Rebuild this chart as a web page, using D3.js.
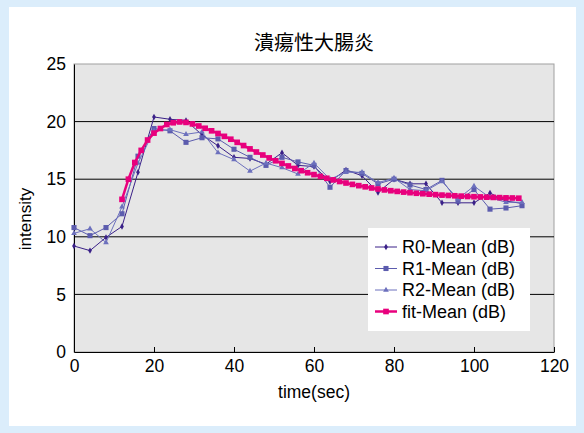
<!doctype html>
<html>
<head>
<meta charset="utf-8">
<script src="https://d3js.org/d3.v7.min.js"></script>
<style>
  body { margin: 0; background: #dbedfb; }
  svg text { font-family: "Liberation Sans", Arial, sans-serif; fill: #000; }
</style>
</head>
<body>
<div id="chart"></div>
<script>
// sample times for the measured series (sec)
var times = [0, 4, 8, 12, 16, 20, 24, 28, 32, 36, 40, 44, 48, 52, 56, 60, 64, 68, 72, 76, 80, 84, 88, 92, 96, 100, 104, 108, 112];
var r0 = [9.2, 8.8, 9.95, 10.9, 15.6, 20.4, 20.2, 20.1, 18.85, 17.9, 16.9, 16.8, 16.3, 17.3, 16.2, 16.1, 14.8, 15.8, 15.3, 13.85, 15.0, 14.6, 14.6, 12.95, 12.95, 12.95, 13.8, 13.1, 12.9];
var r1 = [10.8, 10.1, 10.8, 12.0, 17.0, 19.4, 19.2, 18.2, 18.6, 18.5, 17.6, 16.9, 16.2, 16.9, 16.5, 16.2, 14.3, 15.75, 15.5, 14.6, 15.0, 14.5, 14.1, 14.9, 13.1, 14.1, 12.4, 12.5, 12.7];
var r2 = [10.3, 10.7, 9.5, 12.6, 16.4, 19.2, 19.3, 18.9, 19.1, 17.3, 16.7, 15.7, 16.4, 16.0, 15.45, 16.4, 15.0, 15.6, 15.6, 14.7, 15.1, 14.1, 14.0, 14.8, 13.3, 14.4, 13.4, 13.0, 13.0];

// fitted curve
var fitTimes = [12, 13.6, 15.2, 16.8, 18.4, 20, 21.6, 23.2, 24.8, 26.4, 28, 29.6, 31.2, 32.8, 34.4, 36, 37.6, 39.2, 40.8, 42.4,
  44, 45.6, 47.2, 48.8, 50.4, 52, 53.6, 55.2, 56.8, 58.4, 60, 61.6, 63.2, 64.8, 66.4, 68, 69.6, 71.2, 72.8, 74.4,
  76, 77.6, 79.2, 80.8, 82.4, 84, 85.6, 87.2, 88.8, 90.4, 92, 93.6, 95.2, 96.8, 98.4, 100, 101.6, 103.2, 104.8, 106.4,
  108, 109.6, 111.2];
var fit = [13.25, 15.0, 16.45, 17.5, 18.4, 19.0, 19.4, 19.75, 19.9, 19.97, 19.93, 19.8, 19.62, 19.42, 19.2, 18.97, 18.72, 18.47, 18.2, 17.92,
  17.63, 17.36, 17.1, 16.85, 16.6, 16.37, 16.15, 15.93, 15.74, 15.56, 15.4, 15.24, 15.08, 14.94, 14.8, 14.67, 14.55, 14.44, 14.34, 14.24,
  14.15, 14.07, 14.0, 13.94, 13.88, 13.83, 13.78, 13.74, 13.7, 13.66, 13.62, 13.59, 13.56, 13.53, 13.5, 13.48, 13.46, 13.44, 13.42, 13.4,
  13.38, 13.37, 13.35];

var xTicks = [0, 20, 40, 60, 80, 100, 120];
var yTicks = [0, 5, 10, 15, 20, 25];
var seriesNames = ["R0-Mean (dB)", "R1-Mean (dB)", "R2-Mean (dB)", "fit-Mean (dB)"];

var W = 584, H = 433;
var margin = {top: 64, right: 30, bottom: 81, left: 74},
    width = 480,
    height = 288;

var svg = d3.select("#chart").append("svg")
    .attr("width", W)
    .attr("height", H);

// white panel
svg.append("rect")
    .attr("x", 9).attr("y", 7)
    .attr("width", 567).attr("height", 419)
    .attr("fill", "#fff");

var g = svg.append("g")
    .attr("transform", "translate(" + margin.left + "," + margin.top + ")");

var x = d3.scaleLinear().domain([0, 120]).range([0, width]);
var y = d3.scaleLinear().domain([0, 25]).range([height, 0]);

// plot area
g.append("rect")
    .attr("width", width).attr("height", height)
    .attr("fill", "#e6e6e6")
    .attr("stroke", "#a0a0a0")
    .attr("stroke-width", 1);

// gridlines
g.selectAll(".grid")
    .data(yTicks.filter(function(d) { return d > 0 && d < 25; }))
  .enter().append("line")
    .attr("x1", 0).attr("x2", width)
    .attr("y1", function(d) { return y(d); })
    .attr("y2", function(d) { return y(d); })
    .attr("stroke", "#000")
    .attr("stroke-width", 1);

// x axis
var xAxis = g.append("g")
    .attr("transform", "translate(0," + height + ")")
    .call(d3.axisBottom(x).tickValues(xTicks).tickSizeInner(-5).tickSizeOuter(0).tickPadding(8));
xAxis.select(".domain").attr("stroke", "#000");
xAxis.selectAll("text").style("font-size", "17.5px").attr("dy", "0.71em");

// y axis
var yAxis = g.append("g")
    .call(d3.axisLeft(y).tickValues(yTicks).tickSize(0).tickPadding(8));
yAxis.select(".domain").attr("stroke", "#000");
yAxis.selectAll("text").style("font-size", "17.5px");

// axis titles
svg.append("text")
    .attr("x", margin.left + width / 2).attr("y", 398)
    .attr("text-anchor", "middle")
    .style("font-size", "17.5px")
    .text("time(sec)");

svg.append("text")
    .attr("transform", "translate(31,219) rotate(-90)")
    .attr("text-anchor", "middle")
    .style("font-size", "17px")
    .text("intensity");

svg.append("text")
    .attr("x", margin.left + width / 2).attr("y", 50)
    .attr("text-anchor", "middle")
    .style("font-family", "'Noto Sans CJK JP', sans-serif")
    .style("font-size", "20px")
    .text("潰瘍性大腸炎");

var line = d3.line()
    .x(function(d) { return x(d[0]); })
    .y(function(d) { return y(d[1]); });

var series = [
  {name: seriesNames[0], t: times, v: r0, color: "#3a2088", width: 1, shape: d3.symbolDiamond, size: 12},
  {name: seriesNames[1], t: times, v: r1, color: "#5c5cae", width: 1, shape: d3.symbolSquare, size: 26},
  {name: seriesNames[2], t: times, v: r2, color: "#6c70bd", width: 1, shape: d3.symbolTriangle, size: 14},
  {name: seriesNames[3], t: fitTimes, v: fit, color: "#e8007d", width: 2.5, shape: d3.symbolSquare, size: 32}
];

series.forEach(function(s) {
  var pts = s.t.map(function(t, i) { return [t, s.v[i]]; });
  g.append("path")
      .datum(pts)
      .attr("fill", "none")
      .attr("stroke", s.color)
      .attr("stroke-width", s.width)
      .attr("d", line);
  g.selectAll(null)
      .data(pts)
    .enter().append("path")
      .attr("transform", function(d) { return "translate(" + x(d[0]) + "," + y(d[1]) + ")"; })
      .attr("d", d3.symbol().type(s.shape).size(s.size))
      .attr("fill", s.color);
});

// legend
var legend = svg.append("g").attr("transform", "translate(368,228)");
legend.append("rect")
    .attr("width", 162).attr("height", 103)
    .attr("fill", "#fff");

var items = legend.selectAll(".item")
    .data(series)
  .enter().append("g")
    .attr("transform", function(d, i) { return "translate(0," + (19 + i * 21.5) + ")"; });

items.append("line")
    .attr("x1", 7).attr("x2", 29)
    .attr("stroke", function(d) { return d.color; })
    .attr("stroke-width", function(d) { return d.width; });
items.append("path")
    .attr("transform", "translate(18,0)")
    .attr("d", function(d) { return d3.symbol().type(d.shape).size(d.size)(); })
    .attr("fill", function(d) { return d.color; });
items.append("text")
    .attr("x", 34).attr("dy", "0.35em")
    .style("font-size", "18px")
    .text(function(d) { return d.name; });
</script>
</body>
</html>
